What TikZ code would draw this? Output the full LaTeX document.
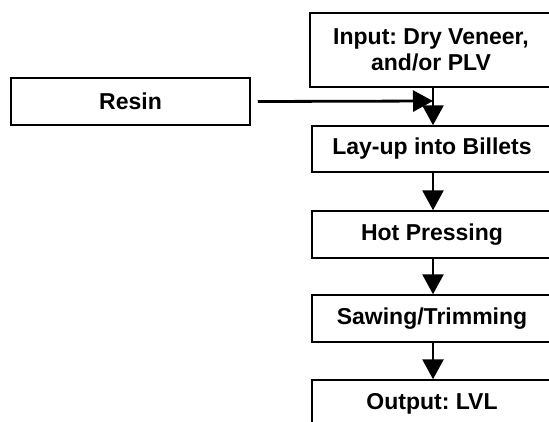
\documentclass[tikz,border=0pt]{standalone}
\usepackage{fontspec}
\setmainfont{Liberation Sans}
\usetikzlibrary{arrows.meta}
\frenchspacing
\begin{document}
\begin{tikzpicture}[x=1pt,y=-1pt,
  box/.style={draw=black,line width=1.5pt,rectangle,inner sep=0pt,align=center,
    font=\fontsize{23}{26}\selectfont\bfseries\frenchspacing},
  flow/.style={line width=2.8pt,-{Triangle[length=20pt,width=21pt]}}]
\useasboundingbox (0,0) rectangle (549,421);
\clip (0,0) rectangle (549,421);
\fill[white] (0,0) rectangle (549,421);
\node[box,minimum width=242pt,minimum height=74pt] (in) at (431,50) {Input: Dry Veneer,\\and/or PLV};
\node[box,minimum width=239pt,minimum height=47pt] (resin) at (130.5,101.5) {Resin};
\node[box,minimum width=240pt,minimum height=46pt] (lay) at (432,149) {Lay-up into Billets};
\node[box,minimum width=240pt,minimum height=47pt] (hot) at (432,234.5) {Hot Pressing};
\node[box,minimum width=240pt,minimum height=47pt] (saw) at (432,318.5) {Sawing/Trimming};
\node[box,minimum width=240pt,minimum height=47pt] (out) at (432,403.5) {Output: LVL};
\coordinate (tip) at (433,101);
\draw[flow] ([xshift=7pt]resin.east) -- (tip);
\draw[flow] (433,0 |- in.south) -- (433,0 |- lay.north);
\draw[flow] (433,0 |- lay.south) -- (433,0 |- hot.north);
\draw[flow] (433,0 |- hot.south) -- (433,0 |- saw.north);
\draw[flow] (433,0 |- saw.south) -- (433,0 |- out.north);
\end{tikzpicture}
\end{document}
